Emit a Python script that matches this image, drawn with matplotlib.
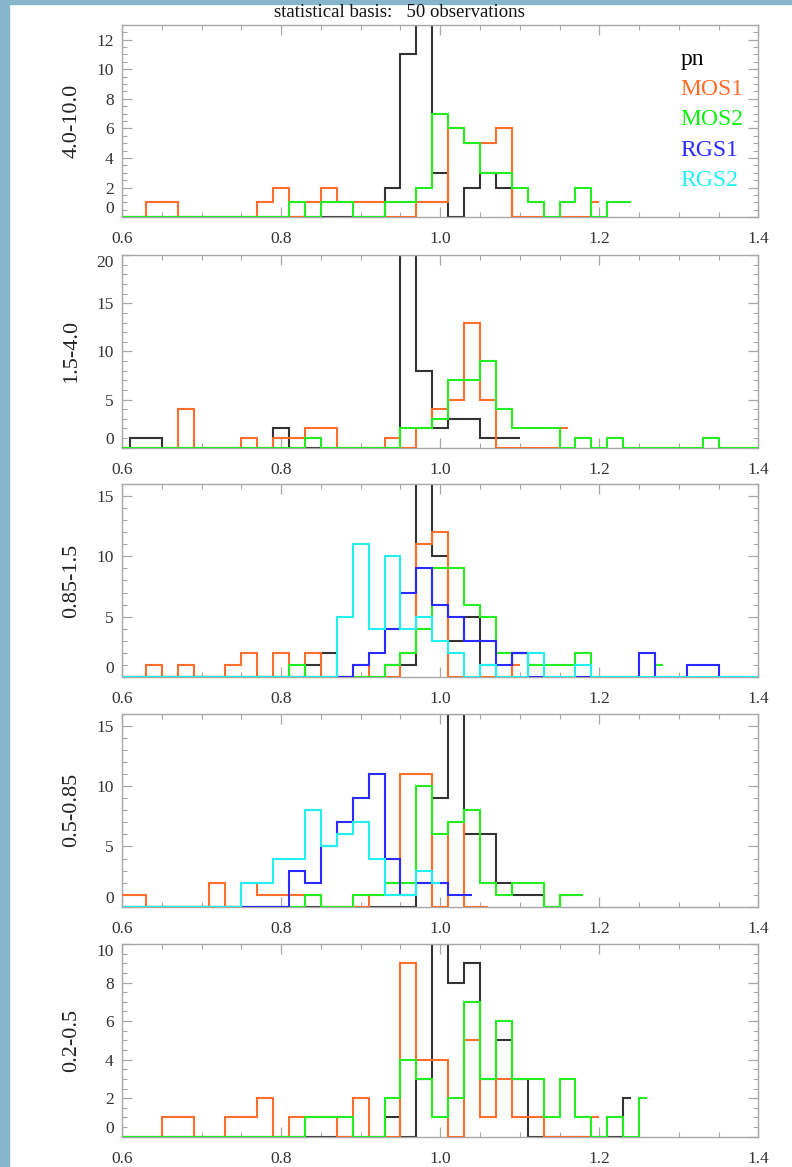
import numpy as np
import matplotlib
matplotlib.use("Agg")
import matplotlib.pyplot as plt
from matplotlib.ticker import MultipleLocator, FormatStrFormatter
from matplotlib.patches import Rectangle

# histogram bins: centres every 0.02 starting at 0.60
bin_start = 0.60
bin_width = 0.02

band_labels = ["4.0-10.0", "1.5-4.0", "0.85-1.5", "0.5-0.85", "0.2-0.5"]
y_tops = [13, 20, 16, 16, 10]
y_major = [2, 5, 5, 5, 2]
y_minor = [0.5, 1, 1, 1, 0.5]

instruments = ["pn", "MOS1", "MOS2", "RGS1", "RGS2"]
line_colors = ["#333333", "#ff6e2a", "#22ee22", "#2a2aff", "#22f0f0"]
text_colors = ["#000000", "#ff6e2a", "#11ee11", "#2a2aff", "#22f0f0"]

# 4.0-10.0 keV
pn_4_10 = [0, 0, 0, 0, 0, 0, 0, 0, 0, 0, 0, 0, 0, 0, 0, 0, 0, 2, 11, 13, 3, 0, 2, 3, 2, 0]
mos1_4_10 = [0, 0, 1, 1, 0, 0, 0, 0, 0, 1, 2, 0, 1, 2, 1, 1, 1, 0, 0, 1, 1, 6, 5, 5, 6,
             0, 0, 0, 0, 0, 1]
mos2_4_10 = [0, 0, 0, 0, 0, 0, 0, 0, 0, 0, 0, 1, 0, 1, 1, 0, 0, 1, 1, 2, 7, 6, 5, 3, 3,
             2, 1, 0, 1, 2, 0, 1, 1]

# 1.5-4.0 keV
pn_15_4 = [0, 1, 1, 0, 0, 0, 0, 0, 0, 0, 2, 0, 0, 0, 0, 0, 0, 0, 20, 8, 2, 3, 3, 1, 1, 1]
mos1_15_4 = [0, 0, 0, 0, 4, 0, 0, 0, 1, 0, 1, 1, 2, 2, 0, 0, 0, 1, 0, 2, 4, 5, 13, 5,
             0, 0, 0, 0, 2]
mos2_15_4 = [0, 0, 0, 0, 0, 0, 0, 0, 0, 0, 0, 0, 1, 0, 0, 0, 0, 0, 2, 2, 3, 7, 7, 9, 4,
             2, 2, 2, 0, 1, 0, 1, 0, 0, 0, 0, 0, 1, 0, 0, 0]

# 0.85-1.5 keV
pn_085_15 = [0, 0, 0, 0, 0, 0, 0, 0, 0, 0, 0, 0, 1, 2, 0, 0, 0, 1, 1, 22, 10, 3, 5, 1,
             0, 2, 1]
mos1_085_15 = [0, 0, 1, 0, 1, 0, 0, 1, 2, 0, 2, 0, 2, 0, 0, 1, 0, 0, 2, 11, 12, 0, 0, 0,
               0, 1]
mos2_085_15 = [0, 0, 0, 0, 0, 0, 0, 0, 0, 0, 0, 1, 0, 0, 0, 0, 0, 1, 2, 4, 9, 9, 6, 5, 2,
               2, 1, 1, 1, 2, 0, 0, 0, 0, 1]
rgs1_085_15 = [0, 0, 0, 0, 0, 0, 0, 0, 0, 0, 0, 0, 0, 0, 0, 1, 2, 4, 7, 9, 6, 5, 3, 3, 1,
               2, 0, 0, 0, 0, 0, 0, 0, 2, 0, 0, 1, 1, 0, 0, 0]
rgs2_085_15 = [0, 0, 0, 0, 0, 0, 0, 0, 0, 0, 0, 0, 0, 0, 5, 11, 4, 10, 4, 5, 3, 2, 0, 1,
               0, 0, 2, 0, 0, 1, 0, 0, 0, 0, 0, 0, 0, 0, 0, 0, 0]

# 0.5-0.85 keV
pn_05_085 = [0, 0, 0, 0, 0, 0, 0, 0, 0, 0, 0, 0, 0, 0, 0, 0, 0, 0, 0, 2, 9, 16, 6, 6, 2,
             1, 1, 0, 1]
mos1_05_085 = [1, 1, 0, 0, 0, 0, 2, 0, 2, 1, 1, 1, 1, 0, 0, 0, 1, 2, 11, 11, 0, 7, 0, 0]
mos2_05_085 = [0, 0, 0, 0, 0, 0, 0, 0, 0, 0, 0, 0, 1, 0, 0, 1, 1, 2, 2, 10, 6, 7, 8, 2,
               1, 2, 2, 0, 1, 1]
rgs1_05_085 = [0, 0, 0, 0, 0, 0, 0, 0, 0, 0, 0, 3, 2, 5, 7, 9, 11, 4, 1, 2, 2, 1, 1]
rgs2_05_085 = [0, 0, 0, 0, 0, 0, 0, 0, 2, 2, 4, 4, 8, 5, 6, 7, 4, 1, 1, 3, 2]

# 0.2-0.5 keV
pn_02_05 = [0, 0, 0, 0, 0, 0, 0, 0, 0, 0, 0, 0, 0, 0, 0, 0, 0, 1, 0, 3, 10, 8, 9, 3, 5,
            3, 0, 0, 0, 0, 0, 0, 2]
mos1_02_05 = [0, 0, 0, 1, 1, 0, 0, 1, 1, 2, 0, 1, 1, 1, 0, 2, 0, 0, 9, 4, 4, 0, 5, 1, 3,
              1, 1, 0, 0, 0, 1]
mos2_02_05 = [0, 0, 0, 0, 0, 0, 0, 0, 0, 0, 0, 0, 1, 1, 1, 0, 0, 2, 4, 3, 1, 2, 7, 3, 6,
              3, 3, 1, 3, 1, 0, 1, 0, 2]

panels = [
    [pn_4_10, mos1_4_10, mos2_4_10, None, None],
    [pn_15_4, mos1_15_4, mos2_15_4, None, None],
    [pn_085_15, mos1_085_15, mos2_085_15, rgs1_085_15, rgs2_085_15],
    [pn_05_085, mos1_05_085, mos2_05_085, rgs1_05_085, rgs2_05_085],
    [pn_02_05, mos1_02_05, mos2_02_05, None, None],
]


def step_edges(n):
    """IDL psym=10 style: half-width first and last bins."""
    centres = bin_start + bin_width * np.arange(n)
    return np.concatenate([[centres[0]], centres[:-1] + bin_width / 2, [centres[-1]]])


plt.rcParams['font.family'] = ['Liberation Serif', 'DejaVu Serif']

fig = plt.figure(figsize=(7.92, 11.67), dpi=100)

# bluish window frame on the left / top of the screenshot
fig.patches.append(Rectangle((0, 0), 9 / 792, 1, transform=fig.transFigure,
                             color="#86b6cc", zorder=0))
fig.patches.append(Rectangle((0, 1 - 4 / 1167), 1, 4 / 1167, transform=fig.transFigure,
                             color="#86b6cc", zorder=0))

axes_bottoms = [0.8138, 0.6164, 0.4201, 0.2231, 0.0260]
ax_left, ax_width, ax_height = 0.154, 0.8037, 0.165
frame_color = "#a8a8a8"

for i, series in enumerate(panels):
    ax = fig.add_axes([ax_left, axes_bottoms[i], ax_width, ax_height])
    for k, counts in enumerate(series):
        if counts is None:
            continue
        ax.stairs(counts, step_edges(len(counts)), baseline=None,
                  color=line_colors[k], lw=1.5, zorder=2 + k)
    ax.set_xlim(0.6, 1.4)
    ax.set_ylim(0, y_tops[i])
    ax.xaxis.set_major_locator(MultipleLocator(0.2))
    ax.xaxis.set_minor_locator(MultipleLocator(0.05))
    ax.xaxis.set_major_formatter(FormatStrFormatter('%.1f'))
    ax.yaxis.set_major_locator(MultipleLocator(y_major[i]))
    ax.yaxis.set_minor_locator(MultipleLocator(y_minor[i]))
    ax.tick_params(which='both', direction='in', top=True, right=True,
                   color=frame_color, labelsize=12.5, labelcolor="#333333")
    ax.tick_params(which='major', length=7, width=0.9)
    ax.tick_params(which='minor', length=3.5, width=0.8)
    ax.tick_params(axis='x', pad=10)
    ax.tick_params(axis='y', pad=6)
    for sp in ax.spines.values():
        sp.set_color(frame_color)
        sp.set_linewidth(1.0)
    ax.set_ylabel(band_labels[i], fontsize=16, color="#222222")
    ax.yaxis.set_label_coords(-0.064, 0.5)
    fig.canvas.draw()
    # end labels sit inside the frame, as in the original
    for lab, val in zip(ax.get_yticklabels(), ax.get_yticks()):
        if val == 0:
            lab.set_verticalalignment('bottom')
        elif val == y_tops[i]:
            lab.set_verticalalignment('top')

    if i == 0:
        for k, name in enumerate(instruments):
            ax.text(0.878, 0.82 - k * 0.157, name, transform=ax.transAxes,
                    fontsize=17, color=text_colors[k], ha='left', va='center')

fig.text(0.504, 0.9889, "statistical basis:   50 observations", ha='center',
         va='center', fontsize=13.5, color="#111111")

fig.savefig("out.png", dpi=100)
